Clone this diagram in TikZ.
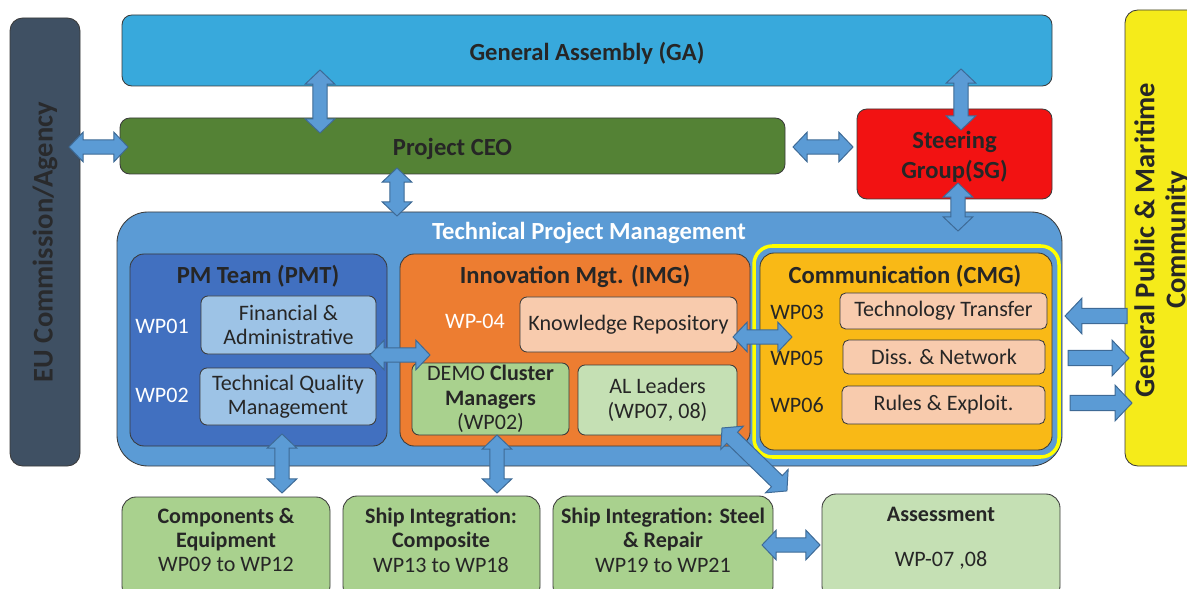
\documentclass[tikz,border=0pt]{standalone}
\usepackage{fontspec}
\setmainfont{Carlito}
\usetikzlibrary{calc,fit}

\definecolor{eublue}{HTML}{3F5063}
\definecolor{gablue}{HTML}{38A9DC}
\definecolor{ceogreen}{HTML}{548235}
\definecolor{sgred}{HTML}{F21212}
\definecolor{pubyellow}{HTML}{F5EB1A}
\definecolor{tpmblue}{HTML}{5B9BD5}
\definecolor{pmtblue}{HTML}{4170C0}
\definecolor{lightblue}{HTML}{9DC3E6}
\definecolor{imgorange}{HTML}{ED7D31}
\definecolor{peach}{HTML}{F8CBAD}
\definecolor{midgreen}{HTML}{A9D18E}
\definecolor{palegreen}{HTML}{C5E0B4}
\definecolor{cmgamber}{HTML}{F9B916}
\definecolor{ringyellow}{HTML}{FFFF00}
\definecolor{boxline}{HTML}{3A3A3A}
\definecolor{arrowline}{HTML}{3E6A96}
\definecolor{txt}{HTML}{262626}

\newcommand\bxfont{\fontsize{15.7}{17.3}\selectfont}
\newcommand\hdfont{\fontsize{17.5}{22}\selectfont\bfseries}
\newcommand\wpfont{\fontsize{15.7}{17}\selectfont}
\newcommand\sdfont{\fontsize{20.3}{22}\selectfont\bfseries}

\tikzset{
  box/.style={draw=boxline, line width=0.6pt, rounded corners=7pt, inner sep=0pt},
  boxtext/.style={align=center, text=txt, font=\bxfont, inner sep=0pt},
  head/.style={font=\hdfont, text=txt, align=center, inner sep=0pt, yshift=-2pt},
  wp/.style={font=\wpfont, text=white},
  blockarrow/.style={draw=arrowline, fill=tpmblue, line width=0.7pt, line join=miter},
}

% block arrows between two named points
\newcommand\twoway[3][]{%
  \path let \p1=($(#3)-(#2)$) in \pgfextra{%
    \pgfmathparse{atan2(\y1,\x1)}\xdef\arrang{\pgfmathresult}%
    \pgfmathparse{veclen(\x1,\y1)}\xdef\arrlen{\pgfmathresult}};
  \begin{scope}[shift={(#2)},rotate=\arrang,#1]
    \draw[blockarrow] (0,0) -- (10pt,10.5pt) -- (10pt,5pt) -- (\arrlen pt-10pt,5pt)
      -- (\arrlen pt-10pt,10.5pt) -- (\arrlen pt,0) -- (\arrlen pt-10pt,-10.5pt)
      -- (\arrlen pt-10pt,-5pt) -- (10pt,-5pt) -- (10pt,-10.5pt) -- cycle;
  \end{scope}}
\newcommand\oneway[3][]{%
  \path let \p1=($(#3)-(#2)$) in \pgfextra{%
    \pgfmathparse{atan2(\y1,\x1)}\xdef\arrang{\pgfmathresult}%
    \pgfmathparse{veclen(\x1,\y1)}\xdef\arrlen{\pgfmathresult}};
  \begin{scope}[shift={(#2)},rotate=\arrang,#1]
    \draw[blockarrow] (0,-5pt) -- (\arrlen pt-12pt,-5pt) -- (\arrlen pt-12pt,-11.5pt)
      -- (\arrlen pt,0) -- (\arrlen pt-12pt,11.5pt) -- (\arrlen pt-12pt,5pt)
      -- (0,5pt) -- cycle;
  \end{scope}}

\begin{document}
\begin{tikzpicture}[x=0.025cm, y=-0.025cm]
\useasboundingbox (0,0) rectangle (1187,589);
\clip (0,0) rectangle (1187,589);

% outer bodies
\node[box, fill=eublue, rounded corners=9pt, fit={(10,18) (80,466)}] (eu) {};
\node[font=\sdfont, text=txt!90!eublue, rotate=90] (eu-t) at (45,242) {EU Commission/Agency};
\node[box, fill=pubyellow, rounded corners=9pt, fit={(1125,10) (1200,466)}] (pub) {};
\node[font=\sdfont, text=txt, rotate=90, align=center] (pub-t) at (1162,240) {General Public \& Maritime\\Community};

\node[box, fill=gablue, fit={(122,15) (1052,86)},
  label={[head]center:General Assembly (GA)}] (ga) {};
\node[box, fill=ceogreen, fit={(120,118) (785,174)},
  label={[head]center:Project CEO}] (ceo) {};
\node[box, fill=sgred, fit={(857,109) (1052,199)},
  label={[head]center:{Steering\\Group(SG)}}] (sg) {};

% technical project management
\node[box, fill=tpmblue, rounded corners=22pt, fit={(117,212) (1062,466)}] (tpm) {};
\node[head, text=white] (tpm-t) at (589,230) {Technical Project Management};

\node[box, fill=pmtblue, rounded corners=10pt, fit={(130,254) (387,446)}] (pmt) {};
\node[head] (pmt-t) at (258,273) {PM Team (PMT)};
\node[wp] (wp01) at (162,326) {WP01};
\node[wp] (wp02) at (162,395) {WP02};
\node[box, fill=lightblue, rounded corners=5pt, fit={(201,296) (376,354)},
  label={[boxtext]center:{Financial \&\\Administrative}}] (fin) {};
\node[box, fill=lightblue, rounded corners=5pt, fit={(200,368) (376,425)},
  label={[boxtext]center:{Technical Quality\\Management}}] (tqm) {};

\node[box, fill=imgorange, rounded corners=10pt, fit={(400,254) (750,446)}] (img) {};
\node[head] (img-t) at (575,274) {Innovation Mgt. (IMG)};
\node[wp] (wp04) at (475,321) {WP-04};
\node[box, fill=peach, rounded corners=5pt, fit={(520,297) (737,352)},
  label={[boxtext]center:Knowledge Repository}] (kr) {};
\node[box, fill=midgreen, rounded corners=5pt, fit={(412,363) (569,435)},
  label={[boxtext]center:{DEMO \textbf{Cluster}\\\textbf{Managers}\\(WP02)}}] (demo) {};
\node[box, fill=palegreen, rounded corners=5pt, fit={(578,365) (737,435)},
  label={[boxtext]center:{AL Leaders\\(WP07, 08)}}] (al) {};

\draw[ringyellow, line width=2.5pt, rounded corners=13pt] (754,246) rectangle (1059,457);
\node[box, fill=cmgamber, rounded corners=10pt, fit={(760,253) (1052,450)}] (cmg) {};
\node[head] (cmg-t) at (905,273) {Communication (CMG)};
\node[wp, text=txt] (wp03) at (797,312) {WP03};
\node[wp, text=txt] (wp05) at (797,358) {WP05};
\node[wp, text=txt] (wp06) at (797,405) {WP06};
\node[box, fill=peach, rounded corners=4pt, fit={(840,293) (1047,329)},
  label={[boxtext]center:Technology Transfer}] (tt) {};
\node[box, fill=peach, rounded corners=4pt, fit={(843,340) (1045,374)},
  label={[boxtext]center:Diss. \& Network}] (dn) {};
\node[box, fill=peach, rounded corners=4pt, fit={(842,386) (1045,424)},
  label={[boxtext]center:Rules \& Exploit.}] (re) {};

% work package groups
\node[box, fill=midgreen, rounded corners=10pt, fit={(122,497) (330,600)}] (comp) {};
\node[boxtext] (comp-t) at (226,540) {\textbf{Components \&}\\\textbf{Equipment}\\WP09 to WP12};
\node[box, fill=midgreen, rounded corners=10pt, fit={(343,496) (540,600)}] (compo) {};
\node[boxtext] (compo-t) at (441,540) {\textbf{Ship Integration:}\\\textbf{Composite}\\WP13 to WP18};
\node[box, fill=midgreen, rounded corners=10pt, fit={(553,496) (773,600)}] (steel) {};
\node[boxtext] (steel-t) at (663,540) {\textbf{Ship Integration: Steel}\\\textbf{\& Repair}\\WP19 to WP21};
\node[box, fill=palegreen, rounded corners=10pt, fit={(822,494) (1060,600)}] (assess) {};
\node[boxtext, font=\bxfont\bfseries] (assess-t) at (941,514) {Assessment};
\node[boxtext] (assess-wp) at (941,560) {WP-07 ,08};

% arrow ends
\coordinate (ga-a) at (320,70);    \coordinate (ceo-a) at (320,133);
\coordinate (eu-a) at (69,147);    \coordinate (ceo-b) at (128,147);
\coordinate (ceo-c) at (397,168);  \coordinate (tpm-a) at (397,216);
\coordinate (ceo-d) at (793,147);  \coordinate (sg-a) at (853,147);
\coordinate (ga-b) at (961,69);    \coordinate (sg-b) at (961,130);
\coordinate (sg-c) at (958,183);   \coordinate (tpm-b) at (958,231);
\coordinate (fin-a) at (370,355);  \coordinate (img-a) at (430,355);
\coordinate (kr-a) at (733,337);   \coordinate (cmg-a) at (792,337);
\coordinate (pmt-a) at (282,434);  \coordinate (comp-a) at (282,493);
\coordinate (demo-a) at (497,435); \coordinate (compo-a) at (497,493);
\coordinate (al-a) at (722,428);   \coordinate (steel-a) at (787,491);
\coordinate (steel-b) at (762,545); \coordinate (assess-a) at (820,545);
\coordinate (pub-a) at (1127,316); \coordinate (cmg-b) at (1065,316);
\coordinate (cmg-c) at (1068,358); \coordinate (pub-b) at (1129,358);
\coordinate (cmg-d) at (1070,403); \coordinate (pub-c) at (1132,403);

\twoway{ga-a}{ceo-a}
\twoway{eu-a}{ceo-b}
\twoway{ceo-c}{tpm-a}
\twoway{ceo-d}{sg-a}
\twoway{ga-b}{sg-b}
\twoway{sg-c}{tpm-b}
\twoway{fin-a}{img-a}
\twoway{kr-a}{cmg-a}
\twoway{pmt-a}{comp-a}
\twoway{demo-a}{compo-a}
\twoway[yscale=1.1]{al-a}{steel-a}
\twoway{steel-b}{assess-a}
\oneway[yscale=1.1]{pub-a}{cmg-b}
\oneway[yscale=1.1]{cmg-c}{pub-b}
\oneway[yscale=1.1]{cmg-d}{pub-c}
\end{tikzpicture}
\end{document}
